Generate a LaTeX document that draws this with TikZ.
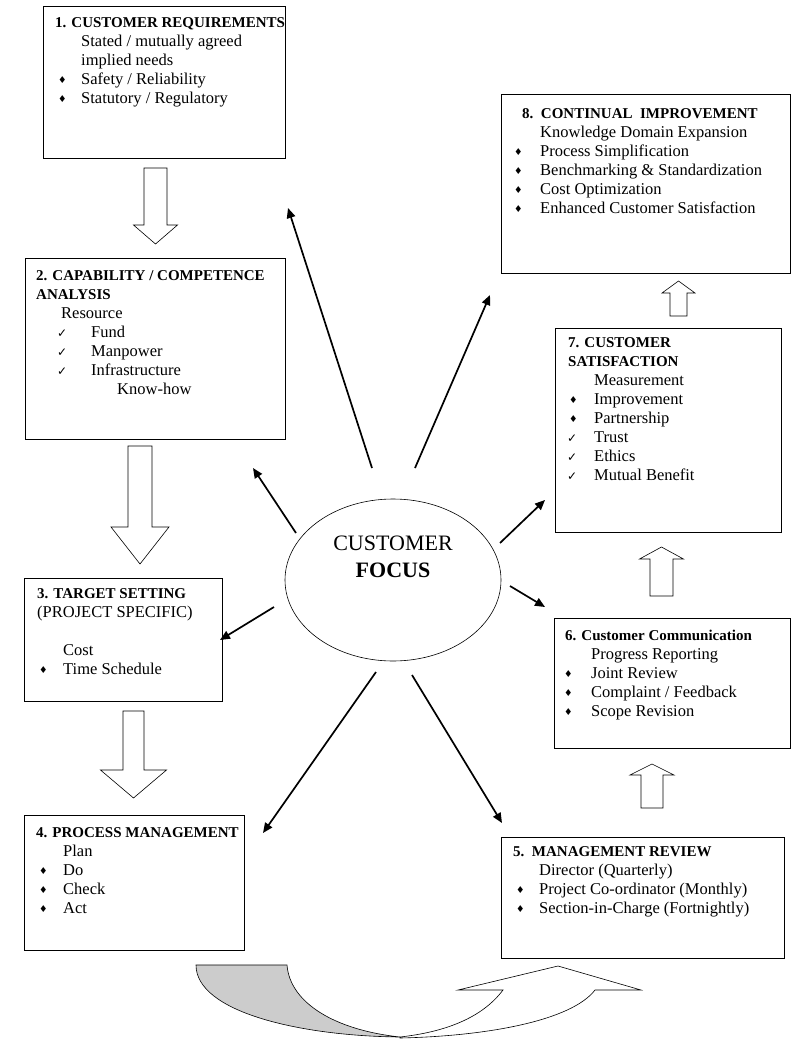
\documentclass[tikz,border=0pt]{standalone}
\usepackage{fontspec}
\setmainfont{Liberation Serif}
\newfontfamily\symfont{DejaVu Sans}
\usetikzlibrary{arrows.meta,shapes.geometric}

% list markers: #1 = marker offset, #2 = text indent
\newcommand\dia[2]{\makebox[#2][l]{\hspace*{#1}\raisebox{0.3pt}{\symfont\fontsize{9.5}{9.5}\selectfont ♦}}}
\newcommand\chk[2]{\makebox[#2][l]{\hspace*{#1}{\symfont\fontsize{12}{12}\selectfont ✓}}}
\newcommand\ttl{\bfseries\fontsize{15}{19}\selectfont}
\newcommand\fl{\rule{0pt}{14pt}}
% vertical block arrow: centre x, tail y, tip y, shaft half width, head half width, head base y
\newcommand\varrow[6]{%
  \draw[blk] (#1-#4,#2) -- (#1-#4,#6) -- (#1-#5,#6) -- (#1,#3) -- (#1+#5,#6) -- (#1+#4,#6) -- (#1+#4,#2) -- cycle;}

\tikzset{
  box/.style={draw, line width=0.9pt, inner sep=0pt, anchor=north west},
  txt/.style={anchor=north west, inner sep=0pt, align=left, font=\fontsize{16.5}{19}\selectfont},
  blk/.style={draw, line width=0.6pt, fill=white},
  ray/.style={line width=1.7pt, -{Triangle[length=10pt,width=8.5pt]}},
  uturn/.style={draw, line width=0.6pt}
}

\begin{document}
\begin{tikzpicture}[x=1pt,y=-1pt]
\useasboundingbox (0,0) rectangle (792,1041);

% boxes
\node[box, minimum width=242pt, minimum height=152pt] (b1) at (43,6) {};
\node[box, minimum width=260pt, minimum height=181pt] (b2) at (25,258) {};
\node[box, minimum width=198pt, minimum height=123pt] (b3) at (24,578) {};
\node[box, minimum width=220pt, minimum height=135pt] (b4) at (24,815) {};
\node[box, minimum width=283pt, minimum height=121pt] (b5) at (501,837) {};
\node[box, minimum width=236pt, minimum height=130pt] (b6) at (554,618) {};
\node[box, minimum width=226pt, minimum height=204pt] (b7) at (555,328) {};
\node[box, minimum width=289pt, minimum height=179pt] (b8) at (501,94) {};

% box texts
\node[txt] (t1) at (55,13) {\fl{\ttl 1. CUSTOMER REQUIREMENTS}\\
\hspace*{26pt}Stated / mutually agreed\\
\hspace*{26pt}implied needs\\
\dia{3pt}{26pt}Safety / Reliability\\
\dia{3pt}{26pt}Statutory / Regulatory};

\node[txt] (t2) at (36,266) {\fl{\ttl 2. CAPABILITY / COMPETENCE}\\
{\ttl ANALYSIS}\\
\hspace*{25pt}Resource\\
\chk{21pt}{55pt}Fund\\
\chk{21pt}{55pt}Manpower\\
\chk{21pt}{55pt}Infrastructure\\
\hspace*{81pt}Know-how};

\node[txt] (t3) at (37,584) {\fl{\ttl 3. TARGET SETTING}\\
(PROJECT SPECIFIC)\\
\mbox{}\\
\hspace*{26pt}Cost\\
\dia{2pt}{26pt}Time Schedule};

\node[txt] (t4) at (36,823) {\fl{\ttl 4. PROCESS MANAGEMENT}\\
\hspace*{27pt}Plan\\
\dia{3pt}{27pt}Do\\
\dia{3pt}{27pt}Check\\
\dia{3pt}{27pt}Act};

\node[txt] (t5) at (511,842) {\fl\hspace*{2pt}{\ttl 5.\ \ MANAGEMENT REVIEW}\\
\hspace*{28pt}Director (Quarterly)\\
\dia{5pt}{28pt}Project Co-ordinator (Monthly)\\
\dia{5pt}{28pt}Section-in-Charge (Fortnightly)};

\node[txt] (t6) at (562,626) {\fl\hspace*{3pt}{\ttl 6. Customer Communication}\\
\hspace*{29pt}Progress Reporting\\
\dia{2pt}{29pt}Joint Review\\
\dia{2pt}{29pt}Complaint / Feedback\\
\dia{2pt}{29pt}Scope Revision};

\node[txt] (t7) at (566,333) {\fl\hspace*{2pt}{\ttl 7. CUSTOMER}\\
\hspace*{2pt}{\ttl SATISFACTION}\\
\hspace*{28pt}Measurement\\
\dia{3pt}{28pt}Improvement\\
\dia{3pt}{28pt}Partnership\\
\chk{1pt}{28pt}Trust\\
\chk{1pt}{28pt}Ethics\\
\chk{1pt}{28pt}Mutual Benefit};

\node[txt] (t8) at (511,104) {\fl\hspace*{11pt}{\ttl 8.\ \ CONTINUAL\ \ IMPROVEMENT}\\
\hspace*{29pt}Knowledge Domain Expansion\\
\dia{3pt}{29pt}Process Simplification\\
\dia{3pt}{29pt}Benchmarking \& Standardization\\
\dia{3pt}{29pt}Cost Optimization\\
\dia{3pt}{29pt}Enhanced Customer Satisfaction};

% block arrows between the stages
\varrow{155.5}{168}{244}{11.5}{22}{225}
\varrow{140}{446}{564}{12}{29}{527}
\varrow{133.5}{711}{798}{10.5}{33}{770}
\varrow{652}{808}{764}{11}{22}{775}
\varrow{661.5}{596}{547}{11.5}{22}{559}
\varrow{678.5}{316}{281}{8.5}{16.5}{293}

% centre ellipse
\node[draw, ellipse, line width=0.6pt, minimum width=216pt, minimum height=162pt, inner sep=0pt] (cf) at (393,580) {};
\node[align=center, inner sep=0pt, font=\fontsize{22}{27}\selectfont] (cft) at (393,557) {CUSTOMER\\\textbf{FOCUS}};

% rays out of the ellipse
\coordinate (ra1) at (372,468); \coordinate (rb1) at (288,208);
\coordinate (ra2) at (415,468); \coordinate (rb2) at (490,295);
\coordinate (ra3) at (296,533); \coordinate (rb3) at (253,468);
\coordinate (ra4) at (500,543); \coordinate (rb4) at (545,500);
\coordinate (ra5) at (510,586); \coordinate (rb5) at (545,607);
\coordinate (ra6) at (274,607); \coordinate (rb6) at (220,640);
\coordinate (ra7) at (376,672); \coordinate (rb7) at (263,833);
\coordinate (ra8) at (412,675); \coordinate (rb8) at (502,823);
\foreach \i in {1,...,8} \draw[ray] (ra\i) -- (rb\i);

% curved return arrow under boxes 4 and 5
\path[uturn, fill=black!20] (196,965) -- (287,965)
  .. controls (290,1003) and (335,1030) .. (400,1037)
  .. controls (300,1036) and (196,1012) .. (196,965) -- cycle;
\path[uturn, fill=white] (400,1038)
  .. controls (490,1036) and (572,1020) .. (595,990)
  -- (641,990) -- (558,966) -- (458,990) -- (503,990)
  .. controls (482,1018) and (445,1032) .. (400,1037) -- cycle;
\end{tikzpicture}
\end{document}
